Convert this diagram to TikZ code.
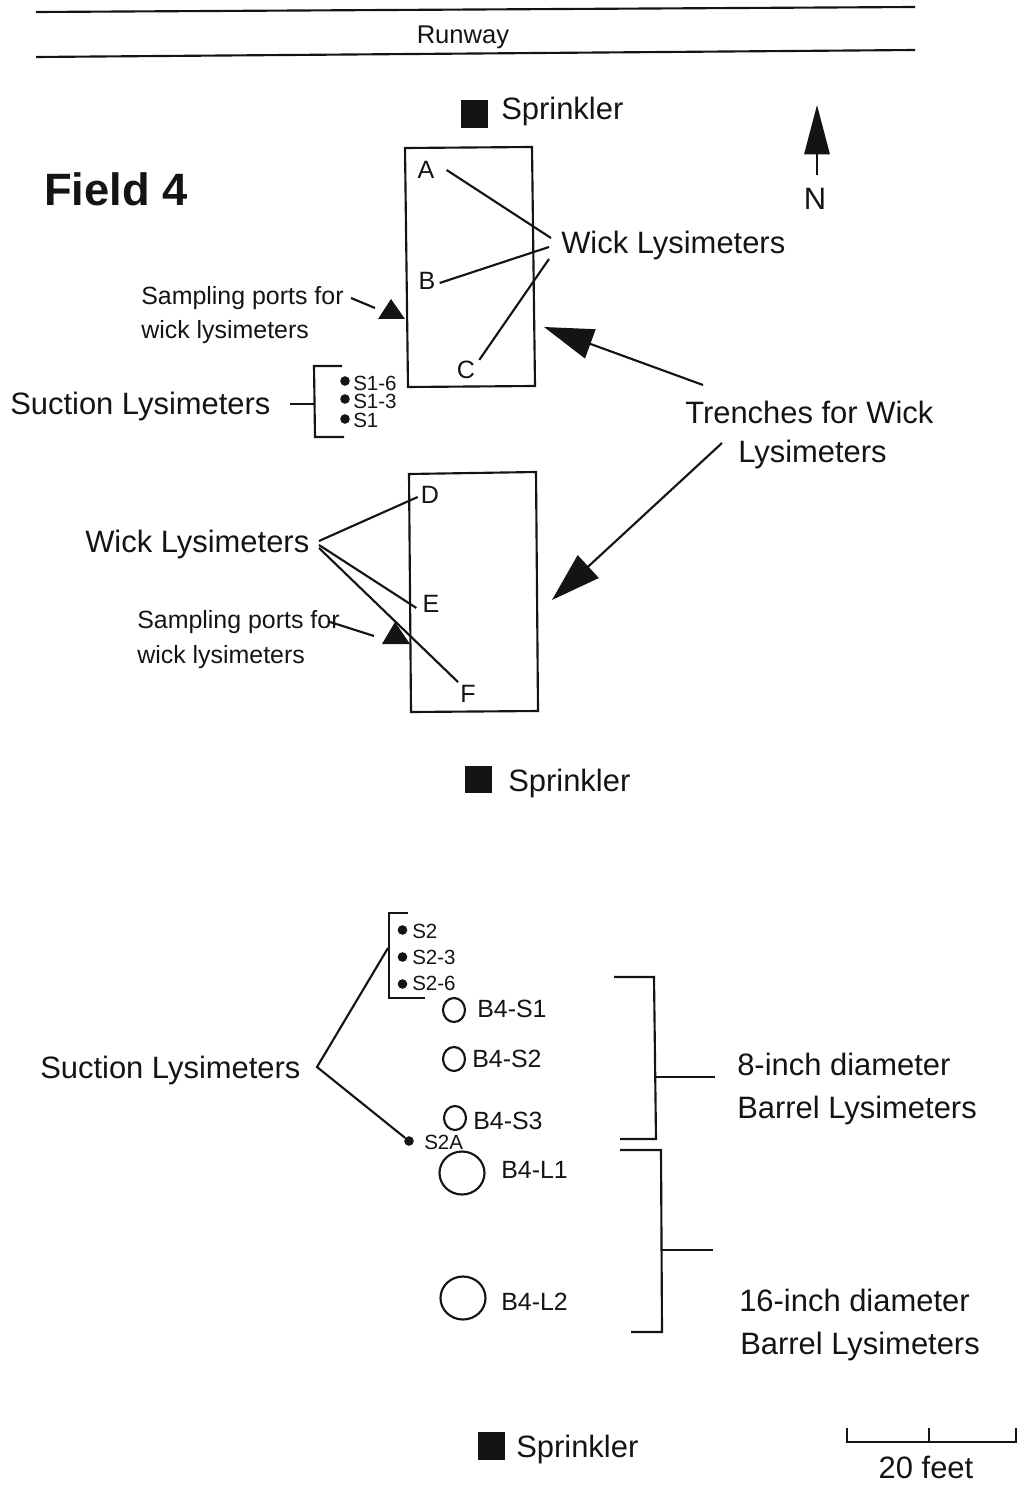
\documentclass[tikz,border=0pt]{standalone}
\usepackage{fontspec}
\setmainfont{Liberation Sans}
\usepackage{tikz}
\usetikzlibrary{arrows.meta, positioning, calc}
\definecolor{inkblack}{RGB}{20, 20, 20}
\tikzset{
  lbl/.style={font=\fontsize{23.2}{23.2}\selectfont, inkblack, anchor=west, inner sep=0pt},
  midlbl/.style={font=\fontsize{18.7}{18.7}\selectfont, inkblack, anchor=west, inner sep=0pt},
  barrellbl/.style={font=\fontsize{18.7}{18.7}\selectfont, inkblack, anchor=west, inner sep=0pt},
  tinylbl/.style={font=\fontsize{15.4}{15.4}\selectfont, inkblack, anchor=west, inner sep=0pt},
  letterlbl/.style={font=\fontsize{18.8}{18.8}\selectfont, inkblack, inner sep=0pt},
  wire/.style={draw=inkblack, line width=1.6pt},
  trenchbox/.style={draw=inkblack, line width=1.6pt},
  sprinkler/.style={fill=inkblack, draw=none, minimum size=20.5pt, inner sep=0pt},
  sampledot/.style={circle, fill=inkblack, minimum size=7.2pt, inner sep=0pt},
  port/.style={fill=inkblack},
  barrel/.style={draw=inkblack, line width=1.6pt},
  bigarrow/.style={wire, -{Triangle[length=37pt, width=23pt]}}
}
\begin{document}
\begin{tikzpicture}[x=0.75pt, y=-0.75pt]
  \useasboundingbox (0,0) rectangle (1024,1494);

  % Runway
  \draw[wire] (36,12) -- (915,7);
  \draw[wire] (36,57) -- (915,50);
  \node[midlbl, font=\fontsize{19.2}{19.2}\selectfont, anchor=center] (runway) at (463,37) {Runway};

  % Sprinklers
  \foreach \x/\y/\tx/\ty/\n in {474.5/114/501/112/a, 478.5/779.5/508/783/b, 491.5/1446/516/1449/c}{
    \node[sprinkler] (sq\n) at (\x,\y) {};
    \node[lbl] (spr\n) at (\tx,\ty) {Sprinkler};
  }

  % North arrow
  \coordinate (ntail) at (817,175);
  \coordinate (ntip) at (817,105);
  \draw[wire, -{Triangle[length=37pt, width=19pt]}] (ntail) -- (ntip);
  \node[lbl, anchor=center] (north) at (815,199) {N};

  % Title
  \node[font=\fontsize{34}{34}\selectfont\bfseries, inkblack, anchor=west, inner sep=0pt] (title) at (44,189) {Field 4};

  % Trenches
  \draw[trenchbox] (405,148) -- (532,147) -- (535,386) -- (408,387) -- cycle;
  \draw[trenchbox] (409,474) -- (536,472) -- (538,711) -- (411,712) -- cycle;

  % Wick lysimeters in the north trench
  \foreach \n/\x/\y in {A/426/170, B/427/281, C/466/370, D/430/495, E/431/604, F/468/694}{
    \node[letterlbl] (wick\n) at (\x,\y) {\n};
  }
  \node[lbl] (wicknorth) at (561,246) {Wick Lysimeters};
  \coordinate (na) at (551,238);
  \coordinate (nb) at (549,247);
  \coordinate (nc) at (549,259);
  \draw[wire] (wickA.east) ++(12,0) -- (na);
  \draw[wire] (wickB.east) ++(4,2) -- (nb);
  \draw[wire] (wickC.north east) ++(4,-1) -- (nc);

  % Wick lysimeters in the south trench
  \node[lbl] (wicksouth) at (85,544) {Wick Lysimeters};
  \coordinate (sa) at (319,541);
  \coordinate (sb) at (319,545);
  \coordinate (sc) at (319,548);
  \draw[wire] (sa) -- ($(wickD.west)+(-3,2)$);
  \draw[wire] (sb) -- ($(wickE.west)+(-6,4)$);
  \draw[wire] (sc) -- ($(wickF.north west)+(-2,-3)$);

  % Sampling ports
  \node[midlbl] (portnorth) at (141,298) {Sampling ports for};
  \node[midlbl] (portnorthb) at (141,332) {wick lysimeters};
  \node[midlbl] (portsouth) at (137,622) {Sampling ports for};
  \node[midlbl] (portsouthb) at (137,657) {wick lysimeters};
  \fill[port] (391,299) -- (405,319) -- (378,319) -- cycle;
  \fill[port] (395,622) -- (410,644) -- (382,644) -- cycle;
  \coordinate (pna) at (351,298);
  \coordinate (pnb) at (375,308);
  \coordinate (psa) at (330,622);
  \coordinate (psb) at (374,636);
  \draw[wire] (pna) -- (pnb);
  \draw[wire] (psa) -- (psb);

  % Suction lysimeters, north
  \node[lbl] (suctnorth) at (10,407) {Suction Lysimeters};
  \draw[wire] (342,366) -- (314,366) -- (315,437) -- (344,437);
  \coordinate (sntick) at (314.5,404);
  \draw[wire] (suctnorth.east) ++(19,-3) -- (sntick);
  \foreach \n/\dy/\ty in {S1-6/381/383, S1-3/399/401, S1/419/420}{
    \node[sampledot] (dot\n) at (345,\dy) {};
    \node[tinylbl] (lab\n) at (353,\ty) {\n};
  }

  % Trench arrows
  \node[lbl] (trencha) at (685,412) {Trenches for Wick};
  \node[lbl] (trenchb) at (738,455) {Lysimeters};
  \coordinate (tra) at (703,385);
  \coordinate (trb) at (544,327);
  \coordinate (trc) at (722,443);
  \coordinate (trd) at (552,600);
  \draw[bigarrow] (tra) -- (trb);
  \draw[bigarrow] (trc) -- (trd);

  % Suction lysimeters, south
  \node[lbl] (suctsouth) at (40,1070) {Suction Lysimeters};
  \draw[wire] (408,913) -- (389,913) -- (389,998) -- (425,998);
  \foreach \n/\dy/\ty in {S2/930/931, S2-3/957/957, S2-6/984/983}{
    \node[sampledot] (dot\n) at (402.5,\dy) {};
    \node[tinylbl] (lab\n) at (412,\ty) {\n};
  }
  \node[sampledot] (dotSA) at (409,1141) {};
  \node[tinylbl] (labSA) at (424,1142) {S2A};
  \coordinate (ssfork) at (317,1067);
  \coordinate (sstop) at (388,948);
  \draw[wire] (sstop) -- (ssfork) -- (dotSA);

  % Barrel lysimeters
  \foreach \n/\x/\y/\rx/\ry/\tx/\ty in {S1/454/1010/11/12/477/1009, S2/454/1059/11/12/472/1059, S3/455/1118/11/12/473/1121, L1/462/1173/22.5/21.5/501/1170, L2/463/1298/22.5/21.5/501/1302}{
    \draw[barrel] (\x,\y) ellipse [x radius=\rx, y radius=\ry];
    \node[barrellbl] (barrel\n) at (\tx,\ty) {B4-\n};
  }

  % Barrel groups
  \draw[wire] (614,977) -- (654,977) -- (656,1139) -- (620,1139);
  \draw[wire] (620,1150) -- (661,1150) -- (662,1332) -- (631,1332);
  \node[lbl] (eighta) at (737,1064) {8-inch diameter};
  \node[lbl] (eightb) at (737,1110) {Barrel Lysimeters};
  \node[lbl] (sixteena) at (739,1300) {16-inch diameter};
  \node[lbl] (sixteenb) at (740,1346) {Barrel Lysimeters};
  \coordinate (eightt) at (655,1077);
  \coordinate (eighte) at (715,1077);
  \coordinate (sixt) at (661.5,1250);
  \coordinate (sixe) at (713,1250);
  \draw[wire] (eightt) -- (eighte);
  \draw[wire] (sixt) -- (sixe);

  % Scale bar
  \draw[wire] (847,1428) -- (847,1442) -- (1016,1442) -- (1016,1428);
  \draw[wire] (929,1428) -- (929,1442);
  \node[lbl, anchor=center] (scale) at (926,1467) {20 feet};
\end{tikzpicture}
\end{document}
